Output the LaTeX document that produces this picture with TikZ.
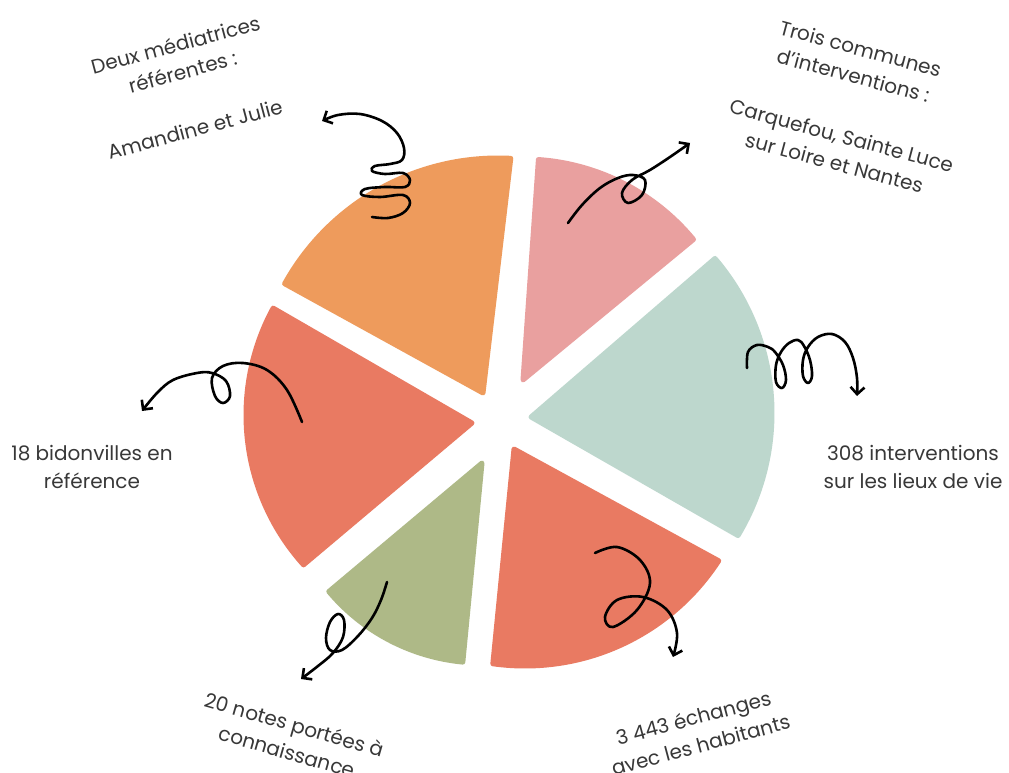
\documentclass[tikz,border=0pt]{standalone}
\usepackage{fontspec}
\setmainfont{Poppins}
\usetikzlibrary{arrows.meta}
\definecolor{cOrange}{HTML}{EE9B5C}
\definecolor{cPink}{HTML}{E9A09F}
\definecolor{cTeal}{HTML}{BDD7CD}
\definecolor{cRed}{HTML}{E97A62}
\definecolor{cGreen}{HTML}{AEB987}
\definecolor{txt}{HTML}{383838}
\newcommand\pieslice[8]{%
  \filldraw[slice, fill=#1, draw=#1] (#2,#3) -- plot[domain=#7:#8, samples=60] ({#4+#6*cos(\x)},{#5-#6*sin(\x)}) -- cycle;}
\begin{document}
\begin{tikzpicture}[x=1pt,y=-1pt,
  lbl/.style={text=txt, align=center, font=\fontsize{20}{28}\selectfont, inner sep=0pt},
  curl/.style={line width=2.6pt, line cap=round, line join=round, -{Straight Barb[length=7pt,width=14pt]}},
  slice/.style={line width=5pt, line join=round}]
\useasboundingbox (0,0) rectangle (1009,773);
\fill[white] (0,0) rectangle (1009,773);

% slices
\pieslice{cOrange}{483}{393}{498}{402}{244}{87}{151}
\pieslice{cPink}{523}{380}{523}{380}{221}{39.5}{86}
\pieslice{cTeal}{531}{417}{534}{413}{238}{-31}{40.5}
\pieslice{cRed}{514}{449}{525}{435}{231}{-98}{-33}
\pieslice{cGreen}{482}{463}{482}{463}{200}{220}{264.5}
\pieslice{cRed}{472}{423}{470}{415}{224}{151.5}{222}

% arrow end points
\coordinate (sA) at (372,217); \coordinate (tA) at (322,121);
\coordinate (sB) at (568,223); \coordinate (tB) at (690,143);
\coordinate (sC) at (747,368); \coordinate (tC) at (857,396);
\coordinate (sD) at (302,422); \coordinate (tD) at (142,411);
\coordinate (sE) at (387,582); \coordinate (tE) at (301,679);
\coordinate (sF) at (595,553); \coordinate (tF) at (673,657);

% curly arrows
\draw[curl] plot[smooth, tension=0.6] coordinates {(sA) (388,218) (403,213) (410,203) (403,195) (380,197) (362,195) (365,189) (385,187) (405,187) (410,180) (403,173) (385,174) (372,171) (375,166) (390,164) (402,160) (404,148) (397,133) (382,121) (360,114) (338,115) (tA)};
\draw[curl] plot[smooth, tension=0.6] coordinates {(sB) (582,205) (600,188) (618,178) (633,175) (645,180) (642,195) (628,203) (622,193) (632,180) (650,170) (670,157) (tB)};
\draw[curl] plot[smooth, tension=0.6] coordinates {(sC) (748,352) (757,345) (768,347) (775,352) (783,365) (786,380) (782,388) (776,382) (776,365) (781,352) (789,343) (798,340) (804,346) (810,360) (812,376) (808,383) (803,376) (803,360) (808,347) (818,337) (832,334) (845,342) (853,358) (857,378) (tC)};
\draw[curl] plot[smooth, tension=0.6] coordinates {(sD) (287,390) (267,370) (243,363) (223,366) (212,378) (215,396) (223,403) (230,396) (226,381) (212,373) (197,373) (173,380) (157,393) (tD)};
\draw[curl] plot[smooth, tension=0.6] coordinates {(sE) (381,600) (372,618) (358,636) (342,650) (330,650) (326,638) (330,622) (338,614) (344,620) (343,637) (333,653) (318,666) (tE)};
\draw[curl] plot[smooth, tension=0.6] coordinates {(sF) (617,547) (640,560) (650,583) (637,610) (613,627) (605,617) (617,600) (643,597) (667,610) (677,633) (tF)};

% labels
\node[lbl, rotate=15] (t1) at (179,58) {Deux médiatrices\\référentes :};
\node[lbl, rotate=15] (t1b) at (195,129) {Amandine et Julie};
\node[lbl, rotate=-15] (t2) at (857,62) {Trois communes\\d’interventions :};
\node[lbl, rotate=-15] (t2b) at (838,149) {Carquefou, Sainte Luce\\sur Loire et Nantes};
\node[lbl] (t3) at (913,467) {308 interventions\\sur les lieux de vie};
\node[lbl] (t4) at (92,467) {18 bidonvilles en\\référence};
\node[lbl, rotate=-16] (t5) at (291,738) {20 notes portées à\\connaissance};
\node[lbl, rotate=15] (t6) at (697,731) {3 443 échanges\\avec les habitants};
\end{tikzpicture}
\end{document}
